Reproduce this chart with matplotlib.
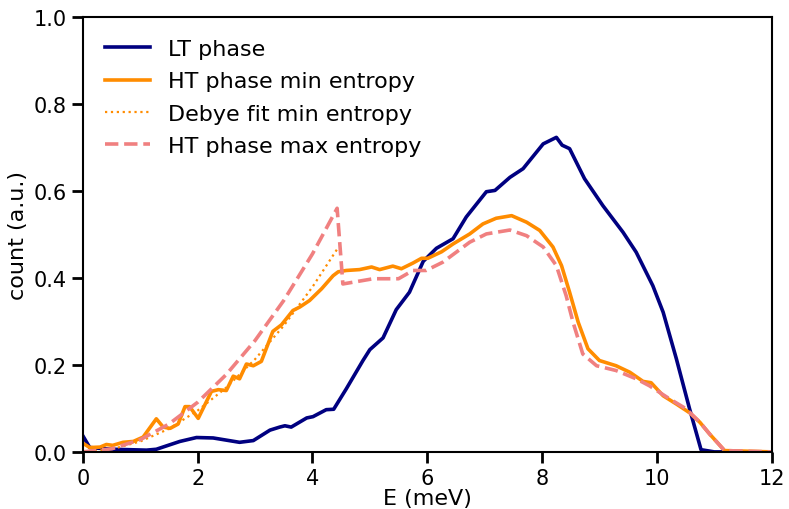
import matplotlib
matplotlib.use('Agg')

import matplotlib.pyplot as plt

# LT phase
lt_E = [0.0, 0.12, 0.52, 1.11, 1.28, 1.69, 1.98, 2.27, 2.73, 2.97, 3.26, 3.43, 3.52, 3.63, 3.9,
        4.01, 4.24, 4.37, 4.59, 4.88, 5.0, 5.23, 5.46, 5.69, 5.93, 6.16, 6.45, 6.68, 7.03, 7.18,
        7.44, 7.67, 8.02, 8.25, 8.35, 8.48, 8.74, 9.06, 9.41, 9.64, 9.93, 10.11, 10.34, 10.57,
        10.77, 11.0, 12.0]
lt_y = [0.037, 0.01, 0.006, 0.004, 0.006, 0.024, 0.033, 0.032, 0.022, 0.026, 0.05, 0.057, 0.06,
        0.057, 0.078, 0.081, 0.097, 0.098, 0.145, 0.21, 0.235, 0.262, 0.327, 0.367, 0.438, 0.468,
        0.49, 0.54, 0.598, 0.601, 0.631, 0.651, 0.708, 0.723, 0.705, 0.697, 0.628, 0.566, 0.505,
        0.459, 0.382, 0.321, 0.214, 0.099, 0.005, 0.0, 0.0]

# HT phase min entropy
ht_min_E = [0.0, 0.12, 0.3, 0.41, 0.52, 0.7, 0.88, 1.05, 1.28, 1.4, 1.52, 1.66, 1.78, 1.86, 2.01,
            2.24, 2.36, 2.5, 2.62, 2.73, 2.85, 2.97, 3.11, 3.31, 3.46, 3.66, 3.78, 3.95, 4.16, 4.36,
            4.45, 4.59, 4.82, 5.03, 5.17, 5.4, 5.55, 5.75, 5.9, 6.01, 6.25, 6.45, 6.74, 6.97, 7.2,
            7.47, 7.73, 7.96, 8.19, 8.34, 8.48, 8.63, 8.8, 9.0, 9.29, 9.53, 9.76, 9.9, 10.11, 10.34,
            10.57, 10.75, 10.92, 11.18, 12.0]
ht_min_y = [0.02, 0.01, 0.011, 0.017, 0.015, 0.022, 0.024, 0.034, 0.076, 0.057, 0.054, 0.064, 0.104,
            0.104, 0.077, 0.139, 0.143, 0.141, 0.174, 0.168, 0.202, 0.198, 0.208, 0.277, 0.292, 0.325,
            0.333, 0.348, 0.375, 0.405, 0.414, 0.417, 0.419, 0.425, 0.419, 0.427, 0.421, 0.434, 0.445,
            0.445, 0.46, 0.478, 0.501, 0.524, 0.537, 0.543, 0.528, 0.509, 0.471, 0.428, 0.367, 0.298,
            0.237, 0.21, 0.198, 0.183, 0.162, 0.159, 0.129, 0.11, 0.09, 0.068, 0.041, 0.003, 0.0]

# Debye fit min entropy
debye_E = [0.0, 0.5, 1.0, 1.5, 2.0, 2.5, 3.0, 3.5, 4.0, 4.45]
debye_y = [0.0, 0.006, 0.024, 0.053, 0.095, 0.148, 0.213, 0.29, 0.379, 0.47]

# HT phase max entropy
ht_max_E = [0.0, 0.5, 1.0, 1.5, 2.0, 2.5, 3.0, 3.5, 4.0, 4.43, 4.53, 5.06, 5.5, 5.75, 5.98, 6.27,
            6.74, 7.03, 7.44, 7.73, 8.02, 8.25, 8.42, 8.54, 8.71, 8.95, 9.29, 9.64, 9.87, 10.22,
            10.51, 10.75, 10.92, 11.18, 12.0]
ht_max_y = [0.0, 0.007, 0.028, 0.064, 0.114, 0.178, 0.256, 0.348, 0.455, 0.56, 0.386, 0.398, 0.398,
            0.417, 0.417, 0.436, 0.482, 0.501, 0.51, 0.497, 0.471, 0.428, 0.359, 0.298, 0.225, 0.198,
            0.187, 0.168, 0.152, 0.122, 0.099, 0.068, 0.041, 0.003, 0.0]

fig = plt.figure(figsize=(7.89, 5.10), dpi=100)
ax = fig.add_axes([0.105, 0.112, 0.873, 0.853])

ax.plot(lt_E, lt_y, color='navy', lw=2.6, label='LT phase')
ax.plot(ht_min_E, ht_min_y, color='darkorange', lw=2.6, label='HT phase min entropy')
ax.plot(debye_E, debye_y, color='darkorange', lw=1.6, ls=':', label='Debye fit min entropy')
ax.plot(ht_max_E, ht_max_y, color='lightcoral', lw=2.6, ls='--', label='HT phase max entropy')

ax.set_xlim(0, 12)
ax.set_ylim(0, 1.0)
ax.set_xticks([0, 2, 4, 6, 8, 10, 12])
ax.set_yticks([0.0, 0.2, 0.4, 0.6, 0.8, 1.0])
ax.set_xlabel('E (meV)', fontsize=16, labelpad=0)
ax.set_ylabel('count (a.u.)', fontsize=16, labelpad=4)
ax.tick_params(labelsize=15, width=2, length=8)
for sp in ax.spines.values():
    sp.set_linewidth(1.5)

ax.legend(loc='upper left', fontsize=16, frameon=False, handlelength=2.0,
          borderaxespad=0.6, labelspacing=0.55, handletextpad=0.85)

fig.savefig('out.png', dpi=100)
